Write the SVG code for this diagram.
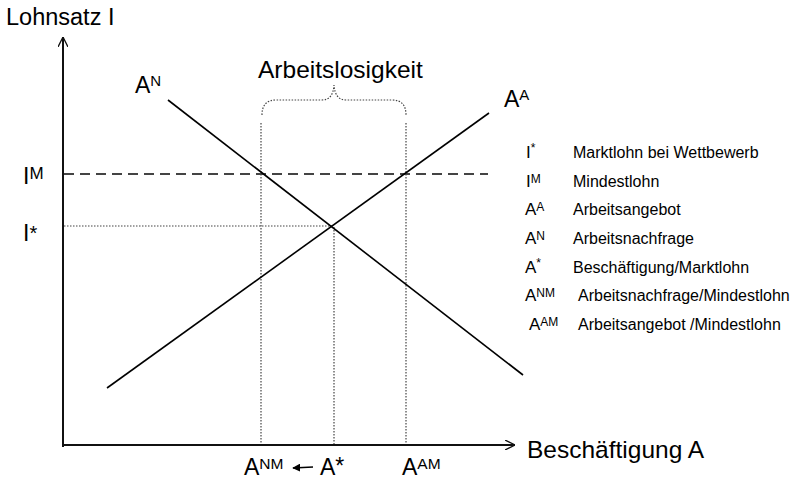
<svg xmlns="http://www.w3.org/2000/svg" width="796" height="480" viewBox="0 0 796 480">
<style>
text{font-family:"Liberation Sans",Arial,sans-serif;fill:#000}
.ax{stroke:#111;stroke-width:2;fill:none}
.cv{stroke:#000;stroke-width:1.6;fill:none}
.dot{stroke:#444;stroke-width:1.2;stroke-dasharray:1.5 1.5;fill:none}
.dash{stroke:#444;stroke-width:2.2;stroke-dasharray:10 6;fill:none}
.lg{font-size:16px}
.ls{font-size:17px}
.sup{font-size:12px}
</style>
<defs>
<marker id="open" viewBox="0 0 10 10" refX="10" refY="5" markerWidth="10" markerHeight="10" markerUnits="userSpaceOnUse" orient="auto">
<path d="M0,0 L10,5 L0,10" fill="none" stroke="#111" stroke-width="1.3"/>
</marker>
<marker id="fill" viewBox="0 0 10 10" refX="9" refY="5" markerWidth="8" markerHeight="8" markerUnits="userSpaceOnUse" orient="auto">
<path d="M0,0 L10,5 L0,10 z" fill="#000"/>
</marker>
</defs>
<g id="connectors">
<line class="ax" x1="63" y1="447" x2="63" y2="37" marker-end="url(#open)"/>
<line class="ax" x1="62" y1="445" x2="515" y2="445" marker-end="url(#open)"/>
<line class="dash" x1="64" y1="174" x2="488" y2="174"/>
<line class="dot" x1="64" y1="226" x2="332" y2="226"/>
<line class="dot" x1="261" y1="123" x2="261" y2="444"/>
<line class="dot" x1="406" y1="123" x2="406" y2="444"/>
<line class="dot" x1="334" y1="227" x2="334" y2="444"/>
<path class="dot" d="M262,115 Q262,100 276,100 L322,100 Q333,100 334,85 Q335,100 346,100 L392,100 Q406,100 406,115"/>
<line class="cv" x1="168" y1="100" x2="523" y2="375"/>
<line class="cv" x1="107" y1="388" x2="489" y2="113"/>
<line stroke="#000" stroke-width="1.5" x1="313" y1="467" x2="293" y2="468" marker-end="url(#fill)"/>
</g>
<g id="axis-labels">
<text x="6" y="25" font-size="23.5">Lohnsatz I</text>
<text x="527" y="458" font-size="24.5">Beschäftigung A</text>
<text x="258" y="78" font-size="24.5">Arbeitslosigkeit</text>
</g>
<g id="curve-labels">
<text x="135" y="93" font-size="23">A<tspan font-size="15" dy="-7">N</tspan></text>
<text x="504" y="107" font-size="23">A<tspan font-size="15" dy="-7">A</tspan></text>
<text x="23" y="184" font-size="23">I<tspan font-size="17" dy="-5">M</tspan></text>
<text x="23" y="241" font-size="23">I<tspan font-size="20" dy="-1">*</tspan></text>
<text x="244" y="475" font-size="23">A<tspan font-size="15.5" dy="-6">NM</tspan></text>
<text x="320" y="475" font-size="23">A<tspan font-size="23" dy="-1">*</tspan></text>
<text x="402" y="475" font-size="23">A<tspan font-size="15.5" dy="-6">AM</tspan></text>
</g>
<g id="legend">
<text class="ls" x="526" y="158">I<tspan class="sup" dy="-6">*</tspan></text>
<text class="lg" x="573" y="158">Marktlohn bei Wettbewerb</text>
<text class="ls" x="526" y="187">I<tspan class="sup" dy="-4">M</tspan></text>
<text class="lg" x="573" y="187">Mindestlohn</text>
<text class="ls" x="525" y="215">A<tspan class="sup" dy="-4">A</tspan></text>
<text class="lg" x="573" y="215">Arbeitsangebot</text>
<text class="ls" x="525" y="244">A<tspan class="sup" dy="-4">N</tspan></text>
<text class="lg" x="573" y="244">Arbeitsnachfrage</text>
<text class="ls" x="525" y="273">A<tspan class="sup" dy="-6">*</tspan></text>
<text class="lg" x="573" y="273">Beschäftigung/Marktlohn</text>
<text class="ls" x="525" y="301">A<tspan class="sup" dy="-4">NM</tspan></text>
<text class="lg" x="578" y="301">Arbeitsnachfrage/Mindestlohn</text>
<text class="ls" x="529" y="330">A<tspan class="sup" dy="-4">AM</tspan></text>
<text class="lg" x="578" y="330">Arbeitsangebot /Mindestlohn</text>
</g>
</svg>
